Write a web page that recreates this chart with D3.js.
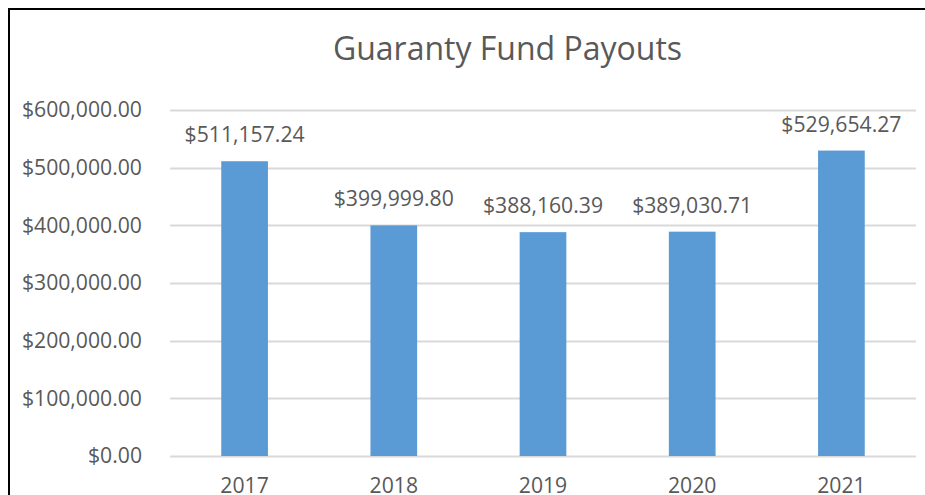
<!DOCTYPE html>
<html>
<head>
<meta charset="utf-8">
<script src="https://cdn.jsdelivr.net/npm/d3@7"></script>
<style>
  body { margin: 0; background: #fff; }
  svg { display: block; font-family: "Open Sans", sans-serif; }
</style>
</head>
<body>
<div id="chart"></div>
<script>
// chart data
var years = ["2017", "2018", "2019", "2020", "2021"];
var payouts = [511157.24, 399999.80, 388160.39, 389030.71, 529654.27];
var yTicks = [0, 100000, 200000, 300000, 400000, 500000, 600000];

var width = 925, height = 495;
var textColor = "#595959";
var labelSize = "21.2px";

var svg = d3.select("#chart").append("svg")
    .attr("width", width)
    .attr("height", height);

// chart frame (runs off the right and bottom of the window)
svg.append("rect")
    .attr("x", 9).attr("y", 9)
    .attr("width", 1100).attr("height", 700)
    .attr("fill", "#fff")
    .attr("stroke", "#000")
    .attr("stroke-width", 2);

var x = d3.scaleBand()
    .domain(years)
    .range([170, 916])
    .paddingInner(0.687)
    .paddingOuter(0.3435);

var y = d3.scaleLinear()
    .domain([0, 600000])
    .range([456, 110]);

var money = d3.format("$,.2f");

// gridlines
svg.append("g")
    .selectAll("line")
    .data(yTicks)
    .enter().append("line")
    .attr("x1", 170).attr("x2", 916)
    .attr("y1", function(d) { return Math.round(y(d)) + 0.5; })
    .attr("y2", function(d) { return Math.round(y(d)) + 0.5; })
    .attr("stroke", "#d9d9d9")
    .attr("stroke-width", 2);

// y axis labels
var yAxis = svg.append("g")
    .attr("transform", "translate(170,0)")
    .call(d3.axisLeft(y).tickValues(yTicks).tickFormat(money).tickSize(0).tickPadding(28));
yAxis.select(".domain").remove();
yAxis.selectAll("text")
    .attr("fill", textColor)
    .style("font-size", labelSize)
    .style("font-family", "'Open Sans', sans-serif");

// bars
svg.append("g")
    .selectAll("rect")
    .data(years)
    .enter().append("rect")
    .attr("x", function(d) { return x(d); })
    .attr("width", x.bandwidth())
    .attr("y", function(d, i) { return y(payouts[i]); })
    .attr("height", function(d, i) { return y(0) - y(payouts[i]); })
    .attr("fill", "#5b9bd5");

// value labels
svg.append("g")
    .selectAll("text")
    .data(years)
    .enter().append("text")
    .attr("x", function(d) { return x(d) + x.bandwidth() / 2; })
    .attr("y", function(d, i) { return y(payouts[i]) - 19; })
    .attr("text-anchor", "middle")
    .attr("fill", textColor)
    .style("font-size", labelSize)
    .text(function(d, i) { return money(payouts[i]); });

// x axis labels
var xAxis = svg.append("g")
    .attr("transform", "translate(0,456)")
    .call(d3.axisBottom(x).tickSize(0).tickPadding(22));
xAxis.select(".domain").remove();
xAxis.selectAll("text")
    .attr("fill", textColor)
    .style("font-size", labelSize)
    .style("font-family", "'Open Sans', sans-serif");

// title
svg.append("text")
    .attr("x", 507.5)
    .attr("y", 60)
    .attr("text-anchor", "middle")
    .attr("fill", textColor)
    .style("font-size", "32px")
    .text("Guaranty Fund Payouts");
</script>
</body>
</html>
